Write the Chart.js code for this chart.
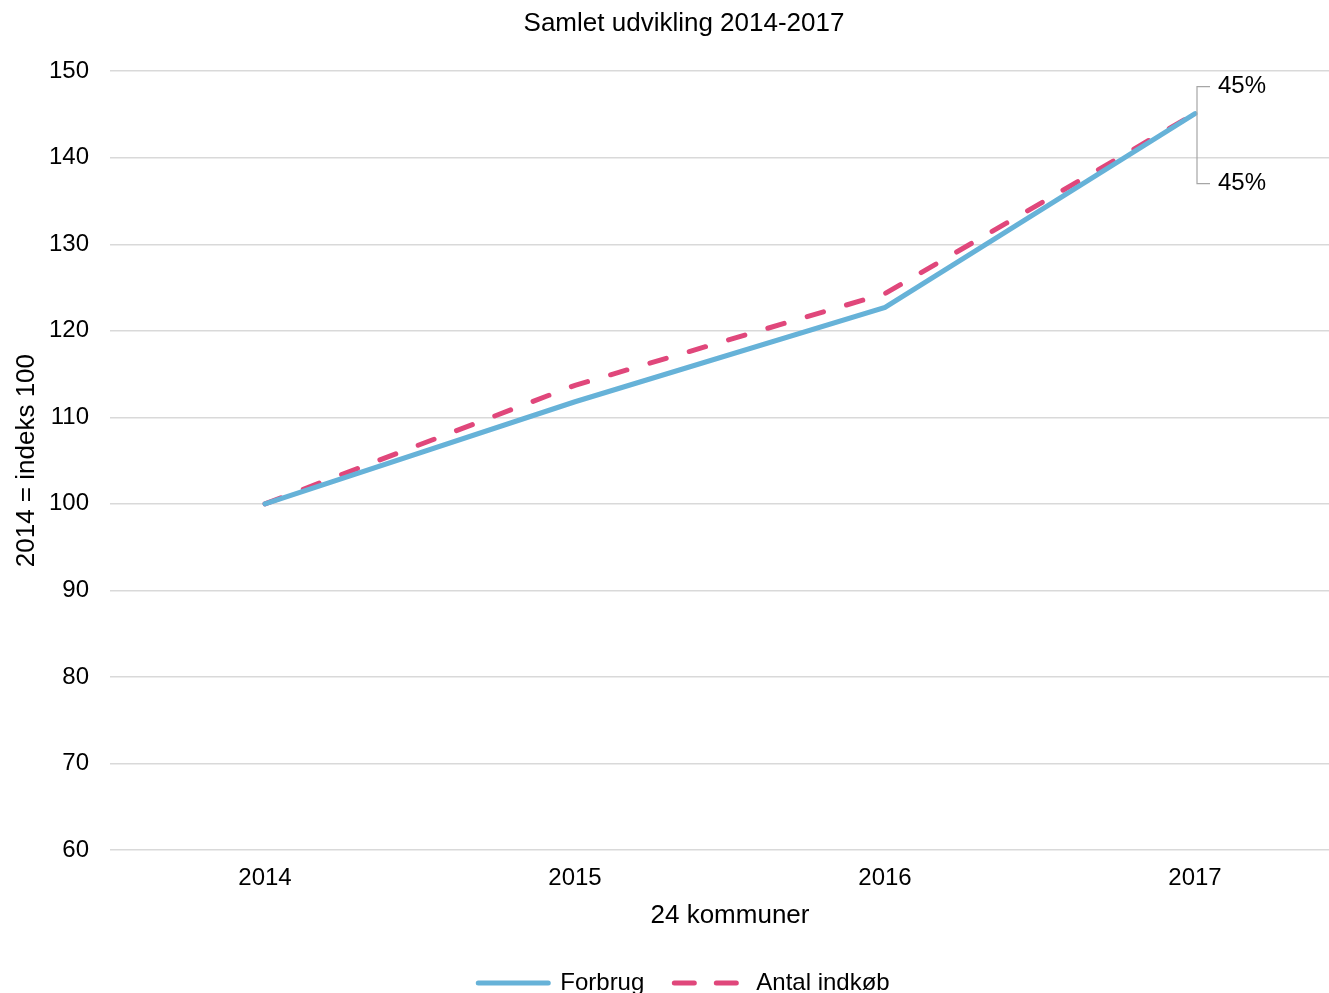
<!DOCTYPE html>
<html lang="da">
<head>
<meta charset="UTF-8">
<title>Samlet udvikling 2014-2017</title>
<script src="https://cdn.jsdelivr.net/npm/chart.js"></script>
<style>
    body { margin: 0; background: #fff; overflow: hidden; }
    .wrap { width: 1350px; height: 1005px; }
</style>
</head>
<body>
<div class="wrap"><canvas id="chart"></canvas></div>
<script>
    const years = ['2014', '2015', '2016', '2017'];
    const forbrug = [100, 111.8, 122.7, 145.1];
    const antalIndkob = [100, 113.7, 124.3, 145.1];
    const endLabels = ['45%', '45%'];

    // leader lines + "45%" labels at the last point
    const endLabelPlugin = {
        id: 'endLabels',
        afterDatasetsDraw(chart) {
            const ctx = chart.ctx;
            const x = chart.scales.x.getPixelForValue(3);
            const y = chart.scales.y.getPixelForValue(forbrug[3]);
            const topY = y - 27, botY = y + 70;
            ctx.save();
            ctx.strokeStyle = '#a6a6a6';
            ctx.lineWidth = 1.2;
            ctx.beginPath();
            ctx.moveTo(x + 15, topY);
            ctx.lineTo(x + 2, topY);
            ctx.lineTo(x + 2, botY);
            ctx.lineTo(x + 15, botY);
            ctx.stroke();
            ctx.fillStyle = '#000';
            ctx.font = '24px "Liberation Sans", Arial, sans-serif';
            ctx.textBaseline = 'middle';
            ctx.fillText(endLabels[0], x + 23, topY);
            ctx.fillText(endLabels[1], x + 23, botY);
            ctx.restore();
        }
    };

    Chart.defaults.font.family = '"Liberation Sans", Arial, sans-serif';
    Chart.defaults.color = '#000';

    new Chart(document.getElementById('chart'), {
        type: 'line',
        data: {
            labels: years,
            datasets: [{
                label: 'Forbrug',
                data: forbrug,
                borderColor: '#66b2d8',
                backgroundColor: '#66b2d8',
                borderWidth: 5,
                borderCapStyle: 'round',
                pointRadius: 0,
                tension: 0
            }, {
                label: 'Antal indkøb',
                data: antalIndkob,
                borderColor: '#e0477b',
                backgroundColor: '#e0477b',
                borderWidth: 5,
                borderDash: [17, 24],
                borderCapStyle: 'round',
                pointRadius: 0,
                tension: 0
            }]
        },
        options: {
            responsive: true,
            maintainAspectRatio: false,
            animation: false,
            layout: { padding: { left: 18, right: 0, top: 0, bottom: 0 } },
            scales: {
                x: {
                    offset: true,
                    grid: { display: false, drawTicks: false },
                    border: { display: false },
                    ticks: { font: { size: 24 }, padding: 14 },
                    title: { display: true, text: '24 kommuner', font: { size: 26 }, padding: { top: -7, bottom: 10 } }
                },
                y: {
                    min: 60,
                    max: 150,
                    afterFit(scale) { scale.width = 92; },
                    ticks: { stepSize: 10, font: { size: 24 }, padding: 21 },
                    grid: { color: '#d9d9d9', lineWidth: 1.5, drawTicks: false },
                    border: { display: false },
                    title: { display: true, text: '2014 = indeks 100', font: { size: 26 }, padding: { top: -7, bottom: 0 } }
                }
            },
            plugins: {
                title: {
                    display: true,
                    text: 'Samlet udvikling 2014-2017',
                    font: { size: 26, weight: 'normal' },
                    padding: { top: 8, bottom: 32 }
                },
                legend: {
                    position: 'bottom',
                    labels: {
                        usePointStyle: true,
                        pointStyle: 'line',
                        pointStyleWidth: 70,
                        font: { size: 24 },
                        padding: 30,
                        generateLabels(chart) {
                            const items = Chart.defaults.plugins.legend.labels.generateLabels(chart);
                            items.forEach((item, i) => {
                                const ds = chart.data.datasets[i];
                                item.lineWidth = 5;
                                item.lineCap = 'round';
                                item.lineDash = ds.borderDash ? [20, 22] : [];
                                item.strokeStyle = ds.borderColor;
                            });
                            return items;
                        }
                    }
                },
                tooltip: { enabled: false }
            }
        },
        plugins: [endLabelPlugin]
    });
</script>
</body>
</html>
